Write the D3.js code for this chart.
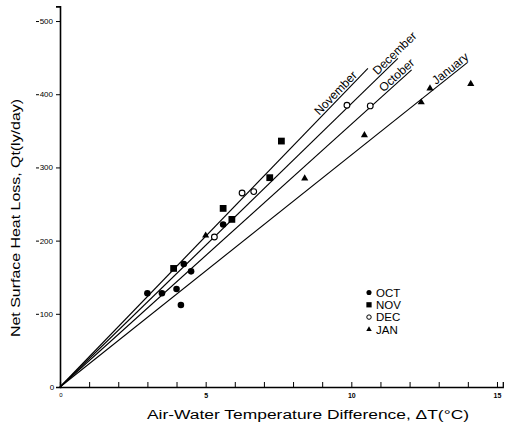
<!DOCTYPE html>
<html>
<head>
<meta charset="utf-8">
<script src="https://cdn.jsdelivr.net/npm/d3@7"></script>
<style>
  body { margin: 0; background: #fff; }
  svg { display: block; }
</style>
</head>
<body>
<div id="chart"></div>
<script>
// months in legend order, fitted line per month
const months = ["OCT", "NOV", "DEC", "JAN"];
const lineLabels = ["October", "November", "December", "January"];
const slopes = [35.9, 41.2, 38.7, 31.7];        // ly/day per degC
const lineEnds = [12.07, 10.57, 11.6, 13.96];    // dT where each line stops
const labelStarts = [11.15, 8.95, 10.95, 12.95]; // dT where each label begins

const octDT = [3.0, 3.5, 4.0, 4.15, 4.25, 4.5, 5.6];
const octQ = [128, 128, 134, 112, 168, 158, 222];
const novDT = [3.9, 5.6, 5.9, 7.2, 7.6];
const novQ = [162, 244, 229, 286, 336];
const decDT = [5.3, 6.25, 6.65, 9.85, 10.65];
const decQ = [205, 265, 267, 385, 384];
const janDT = [5.0, 8.4, 10.45, 12.4, 12.7, 14.1];
const janQ = [207, 285, 344, 389, 408, 414];

const xTicks = d3.range(1, 16);
const xLabels = [5, 10, 15];
const yTicks = [100, 200, 300, 400, 500];

const W = 507, H = 430;
const font = "'Liberation Sans', Arial, sans-serif";

const svg = d3.select("#chart").append("svg")
  .attr("width", W)
  .attr("height", H);

const x = d3.scaleLinear().domain([0, 15.2]).range([60, 502.8]);
const y = d3.scaleLinear().domain([0, 520]).range([387, 6.4]);

// x axis, ticks point up
const xAxis = svg.append("g")
  .attr("transform", `translate(0,${y(0)})`)
  .call(d3.axisBottom(x).tickValues(xTicks).tickSize(-5).tickPadding(6)
    .tickFormat(d => xLabels.includes(d) ? d : ""));
xAxis.select(".domain").attr("stroke-width", 1.3);
xAxis.selectAll(".tick line").attr("stroke-width", 1);
xAxis.selectAll("text").style("font-family", font).style("font-size", "7px").style("font-weight", "bold");

const yAxis = svg.append("g")
  .attr("transform", `translate(${x(0)},0)`)
  .call(d3.axisLeft(y).tickValues(yTicks).tickSize(4).tickPadding(3));
yAxis.select(".domain").attr("stroke-width", 1.6);
yAxis.selectAll("text").style("font-family", font).style("font-size", "8px");
yAxis.selectAll(".tick").append("line")
  .attr("x1", -24).attr("x2", -21)
  .attr("stroke", "#000");

svg.append("text").attr("x", 52).attr("y", y(0) + 3)
  .style("font-family", font).style("font-size", "8px").attr("text-anchor", "middle").text("0");
svg.append("text").attr("x", x(0) + 1).attr("y", y(0) + 10)
  .style("font-family", font).style("font-size", "6px").attr("text-anchor", "middle").text("0");

// axis titles
svg.append("text")
  .attr("x", 308).attr("y", 419)
  .attr("text-anchor", "middle")
  .attr("textLength", 322).attr("lengthAdjust", "spacingAndGlyphs")
  .style("font-family", font).style("font-size", "12.5px")
  .text("Air-Water Temperature Difference, \u0394T(\u00B0C)");

svg.append("text")
  .attr("transform", "translate(20,218) rotate(-90)")
  .attr("text-anchor", "middle")
  .attr("textLength", 238).attr("lengthAdjust", "spacingAndGlyphs")
  .style("font-family", font).style("font-size", "12.5px")
  .text("Net Surface Heat Loss, Qt(ly/day)");

// fitted lines with labels
months.forEach((m, i) => {
  const s = slopes[i];
  svg.append("line")
    .attr("x1", x(0)).attr("y1", y(0))
    .attr("x2", x(lineEnds[i])).attr("y2", y(s * lineEnds[i]))
    .attr("stroke", "#000").attr("stroke-width", 1.1);
  const ang = Math.atan((y(0) - y(s)) / (x(1) - x(0))) * 180 / Math.PI;
  const lx = x(labelStarts[i]), ly = y(s * labelStarts[i]);
  svg.append("text")
    .attr("transform", `translate(${lx},${ly}) rotate(${-ang})`)
    .attr("dy", -2)
    .style("font-family", font).style("font-size", "12px")
    .text(lineLabels[i]);
});

// data points
const series = [
  { dt: octDT, q: octQ, type: d3.symbolCircle, size: 34, fill: "#000" },
  { dt: novDT, q: novQ, type: d3.symbolSquare, size: 46, fill: "#000" },
  { dt: decDT, q: decQ, type: d3.symbolCircle, size: 26, fill: "#fff" },
  { dt: janDT, q: janQ, type: d3.symbolTriangle, size: 22, fill: "#000" }
];

series.forEach(sr => {
  svg.append("g").selectAll("path")
    .data(sr.dt.map((d, j) => [d, sr.q[j]]))
    .enter().append("path")
    .attr("transform", d => `translate(${x(d[0])},${y(d[1])})`)
    .attr("d", d3.symbol().type(sr.type).size(sr.size))
    .attr("fill", sr.fill)
    .attr("stroke", "#000")
    .attr("stroke-width", sr.fill === "#fff" ? 1.1 : 0);
});

// legend
const legend = svg.selectAll(".legend")
  .data(months)
  .enter().append("g")
  .attr("class", "legend")
  .attr("transform", (d, i) => `translate(369,${292.5 + i * 12.3})`);

legend.append("path")
  .attr("d", (d, i) => d3.symbol().type(series[i].type).size(series[i].size * 0.6)())
  .attr("fill", (d, i) => series[i].fill)
  .attr("stroke", "#000")
  .attr("stroke-width", (d, i) => series[i].fill === "#fff" ? 1 : 0);

legend.append("text")
  .attr("x", 7)
  .attr("dy", "0.36em")
  .style("font-family", font)
  .style("font-size", "11.5px")
  .text(d => d);
</script>
</body>
</html>
